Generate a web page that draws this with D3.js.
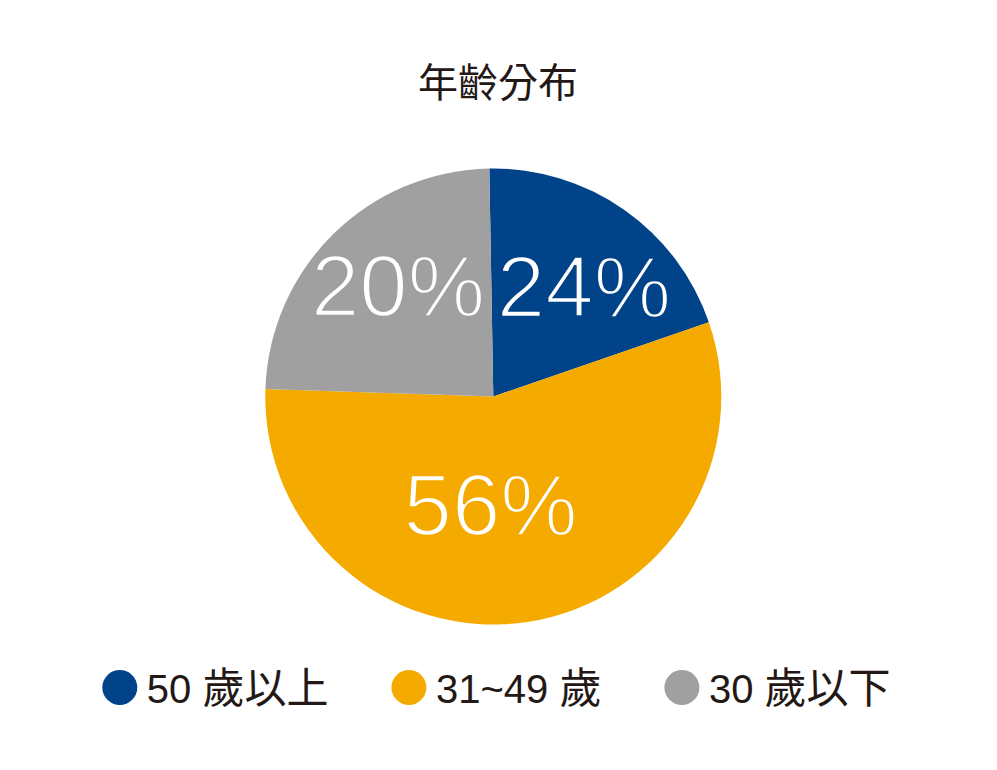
<!DOCTYPE html>
<html>
<head>
<meta charset="utf-8">
<script src="https://cdn.jsdelivr.net/npm/d3@7"></script>
<style>
  html, body { margin: 0; padding: 0; background: #ffffff; }
  svg { display: block; }
</style>
</head>
<body>
<svg id="chart" width="997" height="770"></svg>
<script>
// ---- data ----
const title = "年齡分布";
const categories = ["50 歲以上", "31~49 歲", "30 歲以下"];
const shares = [20, 55.8, 24.2];            // slice sizes as drawn
const labels = ["24%", "56%", "20%"];        // printed percentages
const colors = ["#004389", "#f5aa00", "#a0a0a0"];

// ---- layout ----
const W = 997, H = 770;
const cx = 493.3, cy = 396.5, R = 228;
const startDeg = -1;
const labelNudge = [[4.6, 12.3], [-25, -41], [10, -4.5]];
const textColor = "#231815";

const svg = d3.select("#chart");
svg.append("rect").attr("width", W).attr("height", H).attr("fill", "#fff");

svg.append("text")
  .attr("x", 498).attr("y", 97)
  .attr("text-anchor", "middle")
  .attr("font-family", "'Noto Sans CJK TC', 'Noto Sans CJK JP', sans-serif")
  .attr("font-size", 40)
  .attr("fill", textColor)
  .text(title);

const a0 = startDeg * Math.PI / 180;
const pie = d3.pie().sort(null).value(d => d).startAngle(a0).endAngle(a0 + 2 * Math.PI);
const arcs = pie(shares);
const arc = d3.arc().innerRadius(0).outerRadius(R);
const labelArc = d3.arc().innerRadius(150).outerRadius(150);

const g = svg.append("g").attr("transform", `translate(${cx},${cy})`);
g.selectAll("path.slice").data(arcs).join("path")
  .attr("class", "slice")
  .attr("d", arc)
  .attr("fill", (d, i) => colors[i]);

g.selectAll("text.pct").data(arcs).join("text")
  .attr("class", "pct")
  .attr("x", (d, i) => labelArc.centroid(d)[0] + labelNudge[i][0])
  .attr("y", (d, i) => labelArc.centroid(d)[1] + labelNudge[i][1] + 31)
  .attr("text-anchor", "middle")
  .attr("font-family", "'Liberation Sans', Arial, sans-serif")
  .attr("font-size", 87)
  .attr("fill", "#ffffff")
  .attr("stroke", (d, i) => colors[i])
  .attr("stroke-width", 2.4)
  .text((d, i) => labels[i]);

// ---- legend ----
const legend = svg.append("g");
const items = legend.selectAll("g.item").data(categories).join("g").attr("class", "item");
items.append("circle").attr("r", 17.5).attr("cx", 0).attr("cy", 0)
  .attr("fill", (d, i) => colors[i]);
const lt = items.append("text")
  .attr("x", 27).attr("y", 15.5)
  .attr("fill", textColor);
lt.each(function (d) {
  const runs = d.split(/([\u3400-\u9fff]+)/).filter(s => s.length);
  d3.select(this).selectAll("tspan").data(runs).join("tspan")
    .attr("font-family", s => /[\u3400-\u9fff]/.test(s)
      ? "'Noto Sans CJK TC', 'Noto Sans CJK JP', sans-serif"
      : "'Liberation Sans', Arial, sans-serif")
    .attr("font-size", s => /[\u3400-\u9fff]/.test(s) ? 42 : 40)
    .text(s => s);
});

let x = 0;
const gap = 63;
const xs = [];
items.each(function () {
  const t = d3.select(this).select("text").node();
  const w = 27 + t.getComputedTextLength();
  xs.push(x);
  x += 17.5 + w + gap;
});
const startX = 119.8;
items.attr("transform", (d, i) => `translate(${startX + xs[i]},687.5)`);
</script>
</body>
</html>
